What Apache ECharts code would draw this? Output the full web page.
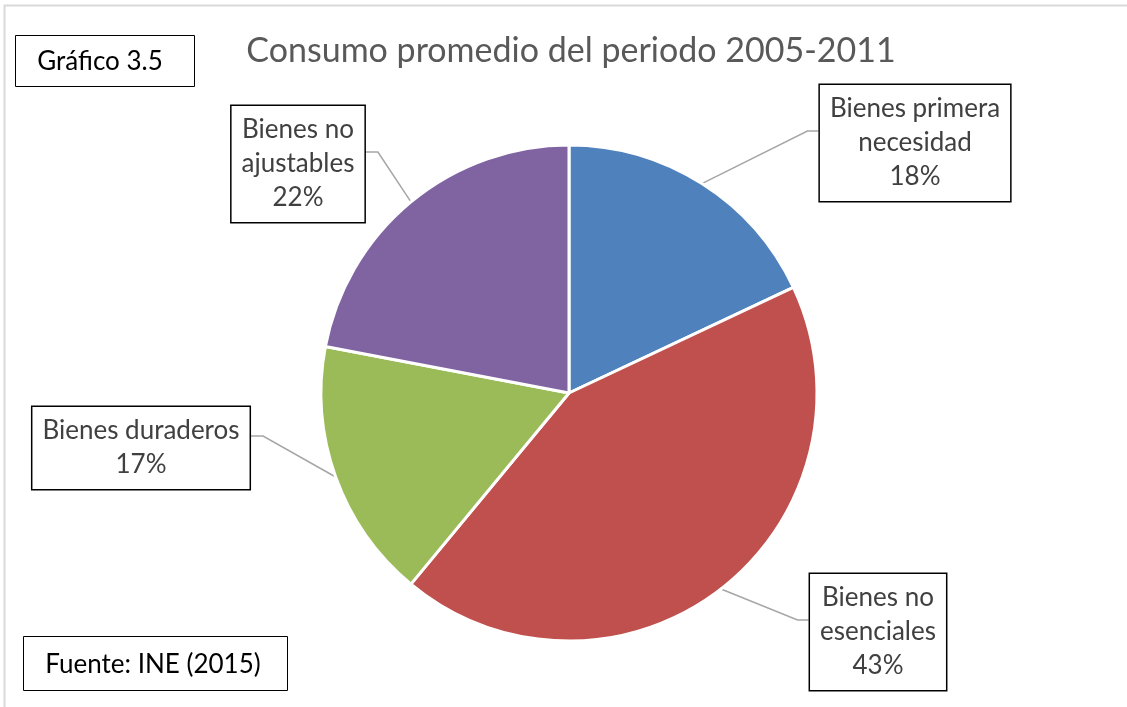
<!DOCTYPE html>
<html>
<head>
<meta charset="utf-8">
<title>Consumo promedio del periodo 2005-2011</title>
<script src="https://cdn.jsdelivr.net/npm/echarts@6/dist/echarts.min.js"></script>
<style>
  html, body { margin: 0; padding: 0; background: #fff; }
  #chart { width: 1127px; height: 707px; }
</style>
</head>
<body>
<div id="chart"></div>
<script>
// datos
var categories = ['Bienes primera\nnecesidad', 'Bienes no\nesenciales', 'Bienes duraderos', 'Bienes no\najustables'];
var values = [18, 43, 17, 22];
var colors = ['#4F81BD', '#C0504D', '#9BBB59', '#8064A2'];

// donde van las cajas de las etiquetas (centro de la caja) y de que lado sale la linea
var boxes = [
  { cx: 915, cy: 143, side: 'right' },
  { cx: 878, cy: 632, side: 'right' },
  { cx: 141, cy: 448, side: 'left' },
  { cx: 298, cy: 164, side: 'left' }
];

var font = 'Lato, "Open Sans", sans-serif';
var chart = echarts.init(document.getElementById('chart'));

var option = {
  backgroundColor: '#fff',
  animation: false,
  title: {
    text: 'Consumo promedio del periodo 2005-2011',
    left: 566,
    top: 29,
    textAlign: 'center',
    textStyle: { fontFamily: font, fontSize: 34, fontWeight: 'normal', color: '#595959' }
  },
  graphic: [
    // marco del grafico
    { type: 'polyline', shape: { points: [[4.5, 710], [4.5, 5.5], [1127, 5.5]] },
      style: { stroke: '#d9d9d9', lineWidth: 2, fill: null }, silent: true },
    { type: 'rect', shape: { x: 15.5, y: 35.5, width: 179, height: 51 },
      style: { fill: '#fff', stroke: '#000', lineWidth: 1 } },
    { type: 'text', x: 100, y: 62, style: { text: 'Gráfico 3.5', fontSize: 26, fontFamily: font, fill: '#000',
      align: 'center', verticalAlign: 'middle' } },
    { type: 'rect', shape: { x: 23.5, y: 636.5, width: 264, height: 54 },
      style: { fill: '#fff', stroke: '#000', lineWidth: 1 } },
    { type: 'text', x: 153, y: 665, style: { text: 'Fuente: INE (2015)', fontSize: 26, fontFamily: font, fill: '#000',
      align: 'center', verticalAlign: 'middle' } }
  ],
  series: [{
    type: 'pie',
    center: [569, 393],
    radius: 248,
    startAngle: 90,
    clockwise: true,
    color: colors,
    itemStyle: { borderColor: '#fff', borderWidth: 3 },
    percentPrecision: 0,
    label: {
      show: true,
      position: 'outside',
      formatter: '{b}\n{d}%',
      fontFamily: font,
      fontSize: 26,
      lineHeight: 34,
      color: '#404040',
      align: 'center',
      backgroundColor: '#fff',
      borderColor: '#000',
      borderWidth: 1.5,
      padding: [7, 10]
    },
    labelLine: { show: true, lineStyle: { color: '#A6A6A6', width: 1.5 } },
    labelLayout: function (params) {
      var b = boxes[params.dataIndex];
      var w = params.labelRect.width;
      var ly = b.cy - 12;
      var edgeX = b.side === 'left' ? b.cx + w / 2 : b.cx - w / 2;
      var elbowX = b.side === 'left' ? edgeX + 12 : edgeX - 11;
      var res = { x: b.cx, y: b.cy, align: 'center', verticalAlign: 'middle' };
      if (params.labelLinePoints) {
        res.labelLinePoints = [params.labelLinePoints[0], [elbowX, ly], [edgeX, ly]];
      }
      return res;
    },
    data: categories.map(function (c, i) { return { name: c, value: values[i] }; })
  }]
};

chart.setOption(option);
</script>
</body>
</html>
